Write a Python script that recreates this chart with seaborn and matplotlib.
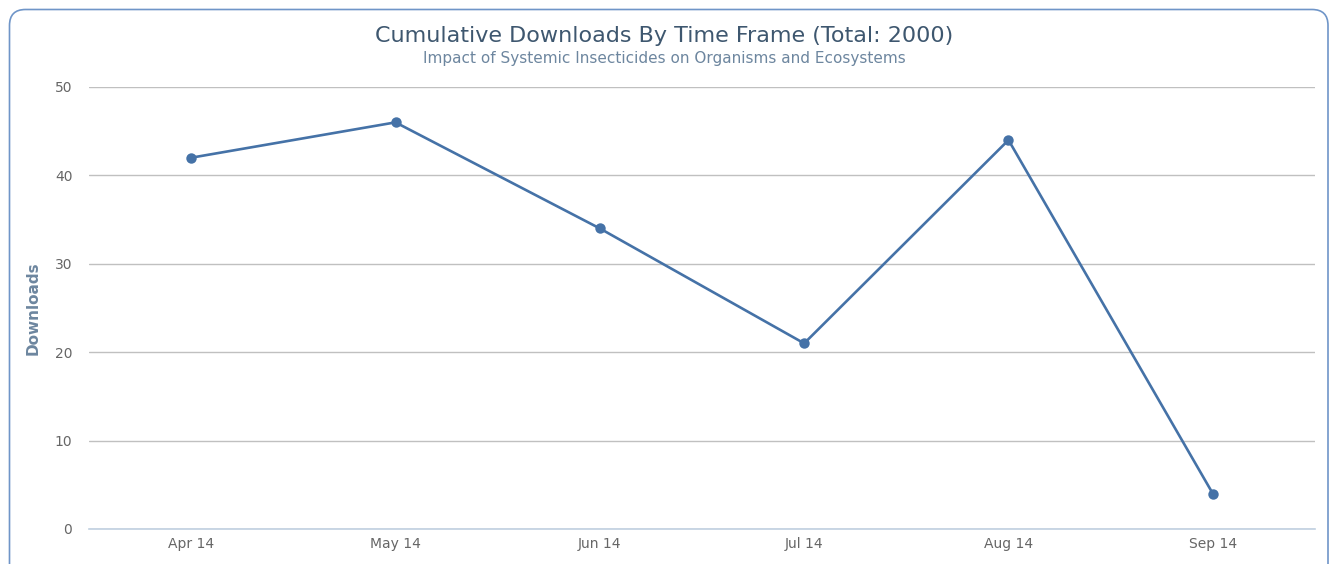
import numpy as np
import pandas as pd
import seaborn as sns
import matplotlib.pyplot as plt
from matplotlib.patches import FancyBboxPatch

months = ['Apr 14', 'May 14', 'Jun 14', 'Jul 14', 'Aug 14', 'Sep 14']
downloads = [42, 46, 34, 21, 44, 4]
y_ticks = [0, 10, 20, 30, 40, 50]

df = pd.DataFrame({'month': months, 'downloads': downloads})

sns.set_theme(style='white')
plt.rcParams['font.family'] = ['DejaVu Sans']

fig = plt.figure(figsize=(13.29, 5.64), dpi=100)
ax = fig.add_axes([89 / 1329, 1 - 529 / 564, (1315 - 89) / 1329, (529 - 87) / 564])

# outer rounded frame
frame = FancyBboxPatch((9.5 / 1329, -0.1), (1328 - 9.5) / 1329, (564 - 9.5) / 564 + 0.1,
                       boxstyle='round,pad=0,rounding_size=0.012', transform=fig.transFigure,
                       fill=False, edgecolor='#6f95c8', linewidth=1.2, clip_on=False,
                       mutation_aspect=1329 / 564)
fig.patches.append(frame)

sns.lineplot(data=df, x='month', y='downloads', ax=ax, color='#4572A7', linewidth=1.9,
             marker='o', markersize=7.5, markeredgewidth=0, sort=False)

ax.set_xlim(-0.5, len(months) - 0.5)
ax.set_ylim(0, 50)
ax.set_yticks(y_ticks)
ax.set_xticks(range(len(months)))
ax.set_xticklabels(months)
ax.set_xticks(np.arange(-0.5, len(months), 1), minor=True)

ax.grid(axis='y', color='#c0c0c0', linewidth=1)
ax.set_axisbelow(True)
for s in ['top', 'right', 'left']:
    ax.spines[s].set_visible(False)
ax.spines['bottom'].set_color('#c0d0e0')
ax.spines['bottom'].set_linewidth(1.2)

ax.tick_params(axis='x', which='major', length=0, pad=6, labelsize=10, labelcolor='#666666')
ax.tick_params(axis='x', which='minor', length=6, width=1, color='#c0d0e0', direction='out')
ax.tick_params(axis='y', length=0, pad=12, labelsize=10, labelcolor='#666666')

ax.set_xlabel('')
ax.set_ylabel('Downloads', fontsize=11, fontweight='bold', color='#6d869f', labelpad=10)

fig.text(0.5, 1 - 36 / 564, 'Cumulative Downloads By Time Frame (Total: 2000)',
         ha='center', va='center', fontsize=16, color='#3e576f')
fig.text(0.5, 1 - 59 / 564, 'Impact of Systemic Insecticides on Organisms and Ecosystems',
         ha='center', va='center', fontsize=11, color='#6d869f')

fig.savefig('out.png', dpi=100)
